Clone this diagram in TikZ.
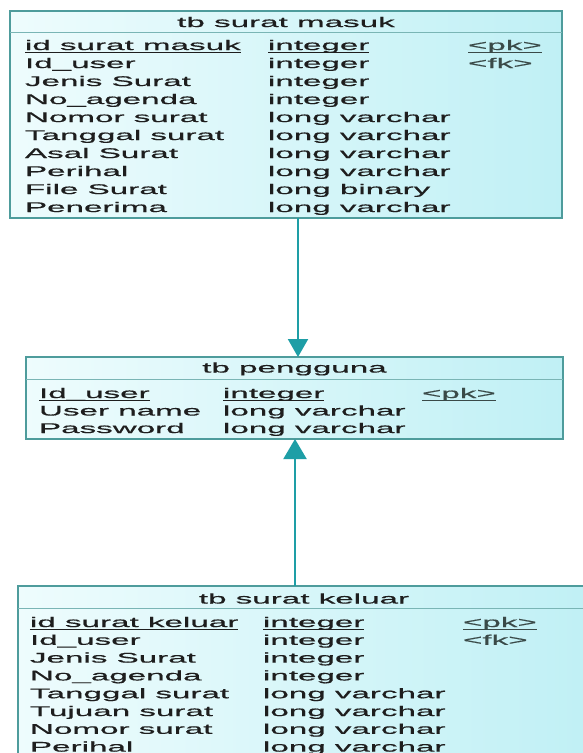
\documentclass[tikz,border=0pt]{standalone}
\usepackage{fontspec}
\setmainfont{Liberation Sans}
\newfontfamily\erdfont[FakeStretch=2.37,FakeBold=0.6]{Liberation Sans}
\usetikzlibrary{arrows.meta}
\definecolor{tblfillL}{HTML}{EEFCFD}
\definecolor{tblfillR}{HTML}{C0F0F5}
\definecolor{tbldraw}{HTML}{4E9C9C}
\definecolor{conncol}{HTML}{1E9EA6}
\definecolor{txt}{HTML}{1E1E1E}
\definecolor{keytxt}{HTML}{3A4A48}
\newcommand\erdul[1]{\setbox0\hbox{#1}\rlap{\rule[-2.4pt]{\wd0}{0.8pt}}\box0}
\begin{document}
\begin{tikzpicture}[x=1pt,y=-1pt,
  tbl/.style={draw=tbldraw, line width=1.3pt, left color=tblfillL, right color=tblfillR, rectangle, inner sep=0pt, outer sep=0pt},
  cell/.style={anchor=base west, inner sep=0pt, outer sep=0pt, text=txt, font=\erdfont\fontsize{14}{16}\selectfont},
  keycell/.style={cell, text=keytxt},
  ttl/.style={anchor=base, inner sep=0pt, outer sep=0pt, text=txt, font=\erdfont\fontsize{14}{16}\selectfont},
  sepline/.style={draw=tbldraw!75, line width=0.8pt},
  conn/.style={draw=conncol, fill=conncol, line width=2pt}
]
\useasboundingbox (0,0) rectangle (583,753);
\fill[white] (0,0) rectangle (583,753);
\clip (0,0) rectangle (583,753);

% ---------- tb surat masuk ----------
\node[tbl, minimum width=552pt, minimum height=207pt] (t1) at (286,114.5) {};
\draw[sepline] (t1.west |- 0,32) -- (t1.east |- 0,32);
\node[ttl] (t1title) at (286,27) {tb surat masuk};
\node[cell] (t1n0) at (25,50) {\erdul{id surat masuk}};
\node[cell] (t1t0) at (268,50) {\erdul{integer}};
\node[keycell] (t1k0) at (468,50) {\erdul{<pk>}};
\node[keycell] (t1k1) at (468,68) {<fk>};
\foreach \n/\t [count=\i] in {Id\_user/integer, Jenis Surat/integer, No\_agenda/integer, Nomor surat/long varchar, Tanggal surat/long varchar, Asal Surat/long varchar, Perihal/long varchar, File Surat/long binary, Penerima/long varchar}{
  \node[cell] (t1n\i) at (25,50+18*\i) {\n};
  \node[cell] (t1t\i) at (268,50+18*\i) {\t};
}

% ---------- tb pengguna ----------
\node[tbl, minimum width=537pt, minimum height=82pt] (t2) at (294.5,398) {};
\draw[sepline] (t2.west |- 0,379) -- (t2.east |- 0,379);
\node[ttl] (t2title) at (294.5,372.5) {tb pengguna};
\node[cell] (t2n0) at (39,398) {\erdul{Id\_user}};
\node[cell] (t2t0) at (223,398) {\erdul{integer}};
\node[keycell] (t2k0) at (422,398) {\erdul{<pk>}};
\node[cell] (t2n1) at (39,415.5) {User name};
\node[cell] (t2t1) at (223,415.5) {long varchar};
\node[cell] (t2n2) at (39,433) {Password};
\node[cell] (t2t2) at (223,433) {long varchar};

% ---------- tb surat keluar ----------
\node[tbl, minimum width=572pt, minimum height=228pt] (t3) at (304,700) {};
\draw[sepline] (t3.west |- 0,608) -- (t3.east |- 0,608);
\node[ttl] (t3title) at (304,603.5) {tb surat keluar};
\node[cell] (t3n0) at (30,627) {\erdul{id surat keluar}};
\node[cell] (t3t0) at (263,627) {\erdul{integer}};
\node[keycell] (t3k0) at (463,627) {\erdul{<pk>}};
\node[keycell] (t3k1) at (463,644.8) {<fk>};
\foreach \n/\t [count=\i] in {Id\_user/integer, Jenis Surat/integer, No\_agenda/integer, Tanggal surat/long varchar, Tujuan surat/long varchar, Nomor surat/long varchar, Perihal/long varchar}{
  \node[cell] (t3n\i) at (30,627+17.8*\i) {\n};
  \node[cell] (t3t\i) at (263,627+17.8*\i) {\t};
}

% ---------- connectors ----------
\draw[conn, -{Triangle[length=18pt,width=20pt]}] ([xshift=12pt]t1.south) -- ([xshift=12pt]t1.south |- t2.north);
\draw[conn, -{Triangle[length=20pt,width=23pt]}] ([xshift=-9pt]t3.north) -- ([xshift=-9pt]t3.north |- t2.south);
\end{tikzpicture}
\end{document}
